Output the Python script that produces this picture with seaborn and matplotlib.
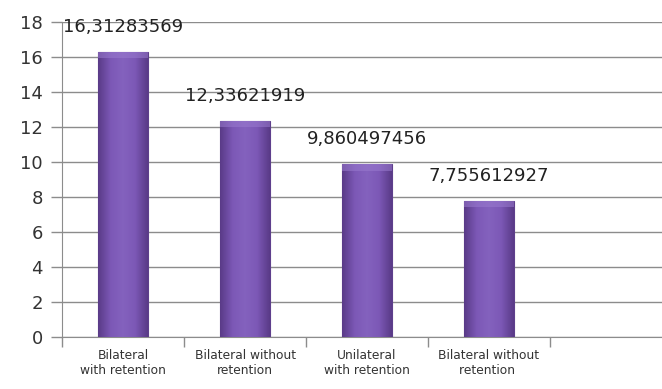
import numpy as np
import pandas as pd
import seaborn as sns
import matplotlib.pyplot as plt
from matplotlib.colors import LinearSegmentedColormap

# data
categories = ["Bilateral\nwith retention", "Bilateral without\nretention",
              "Unilateral\nwith retention", "Bilateral without\nretention "]
values = [16.31283569, 12.33621919, 9.860497456, 7.755612927]
labels = ["16,31283569", "12,33621919", "9,860497456", "7,755612927"]

df = pd.DataFrame({"cat": categories, "val": values})

sns.set_style("white")
plt.rcParams['font.family'] = ['DejaVu Sans']

fig = plt.figure(figsize=(6.62, 3.89), dpi=100)
ax = fig.add_axes([0.094, 0.134, 0.906, 0.809])

sns.barplot(data=df, x="cat", y="val", color="#7a55b3", width=0.41,
            edgecolor="#5e3f8c", linewidth=0.8, saturation=1, ax=ax, zorder=3)

ax.set_ylim(0, 18)
ax.set_xlim(-0.5, 4.42)

# soft bevel shading on the bars, like the office 3D look
shade = LinearSegmentedColormap.from_list("shade", ["#5a3b88", "#7c58b6", "#8462be", "#7c58b6", "#5a3b88"])
grad = np.linspace(0, 1, 64).reshape(1, -1)
for p in ax.patches:
    x0, y0 = p.get_x(), p.get_y()
    w, h = p.get_width(), p.get_height()
    im = ax.imshow(grad, cmap=shade, extent=(x0, x0 + w, y0, y0 + h),
                   aspect="auto", zorder=3.5)
    im.set_clip_path(p)
    # lighter cap on top
    ax.fill_between([x0, x0 + w], y0 + h - 0.35, y0 + h, color="#9a7bcf",
                    alpha=0.55, zorder=3.6, linewidth=0)
ax.set_xlim(-0.5, 4.42)
ax.set_ylim(0, 18)

# value labels above the bars
for i, (v, lab) in enumerate(zip(values, labels)):
    ax.annotate(lab, (i, v), xytext=(0, 18), textcoords="offset points",
                ha="center", va="center", fontsize=13, color="#222222")

ax.set_yticks(range(0, 19, 2))
ax.yaxis.grid(True, color="#8c8c8c", linewidth=1, zorder=0)
ax.set_axisbelow(True)

ax.set_xticks(range(len(categories)))
ax.set_xticklabels(categories, fontsize=8.8, color="#333333", linespacing=1.15)
ax.tick_params(axis="x", which="major", length=0, pad=9)
ax.set_xticks(np.arange(-0.5, 4.0, 1.0), minor=True)
ax.tick_params(axis="x", which="minor", bottom=True, length=7, direction="out",
               color="#8c8c8c", width=1)
ax.tick_params(axis="y", left=True, labelsize=13, length=8, color="#8c8c8c",
               width=1, pad=6, labelcolor="#333333")

for s in ["top", "right"]:
    ax.spines[s].set_visible(False)
ax.spines["left"].set_color("#8c8c8c")
ax.spines["bottom"].set_color("#8c8c8c")
ax.set_xlabel("")
ax.set_ylabel("")

fig.savefig("out.png", dpi=100)
